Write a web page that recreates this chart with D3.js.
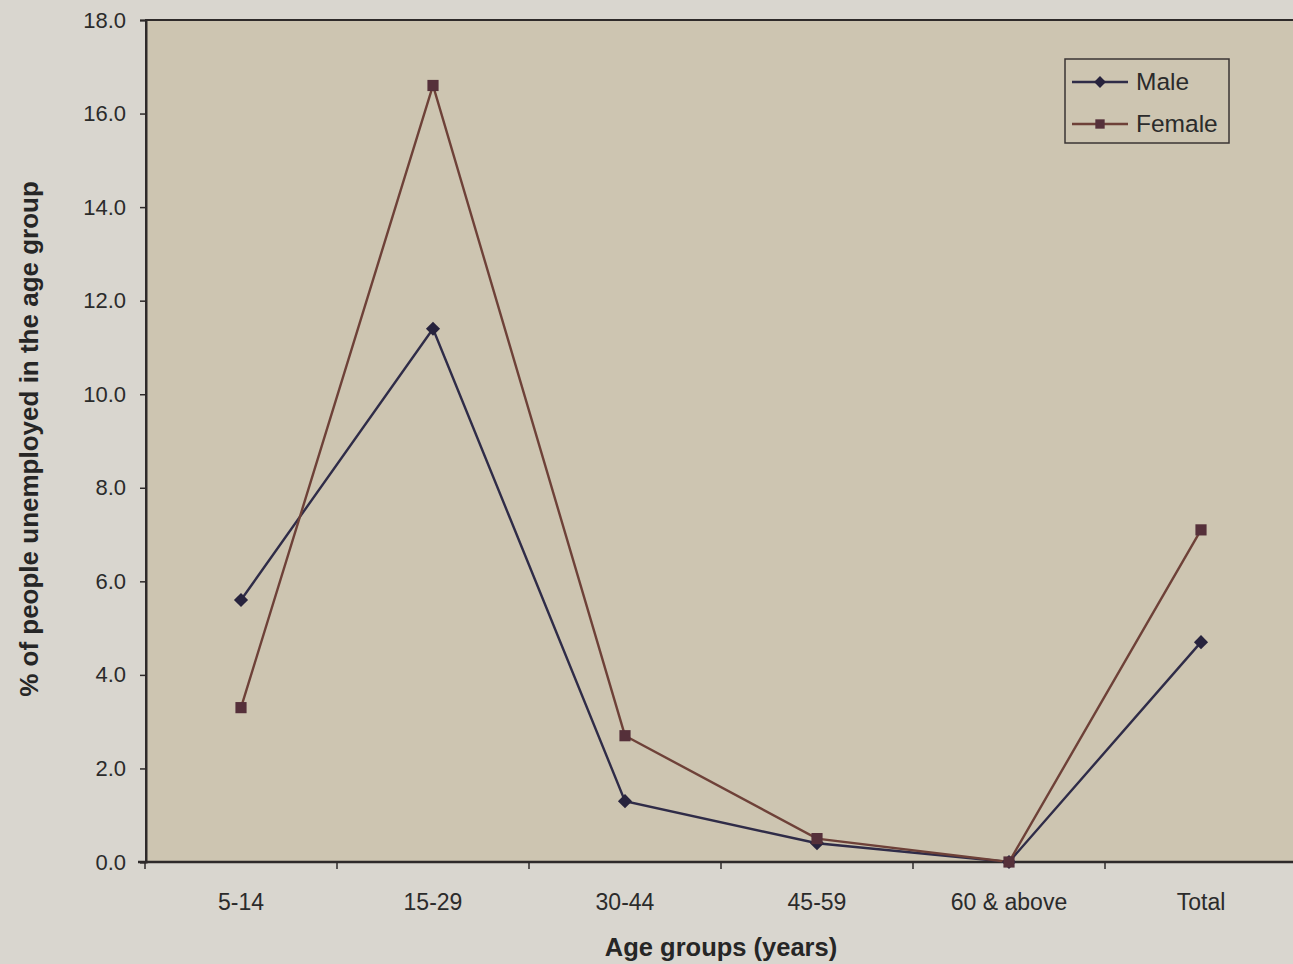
<!DOCTYPE html>
<html>
<head>
<meta charset="utf-8">
<script src="https://cdn.jsdelivr.net/npm/d3@7"></script>
<style>
  html, body { margin: 0; padding: 0; background: #d9d6cf; }
  svg { display: block; font-family: "Liberation Sans", Arial, sans-serif; }
</style>
</head>
<body>
<svg id="chart" width="1293" height="964"></svg>
<script>
// Unemployment rate by age group, male vs female
const categories = ["5-14", "15-29", "30-44", "45-59", "60 & above", "Total"];
const maleValues = [5.6, 11.4, 1.3, 0.4, 0.0, 4.7];
const femaleValues = [3.3, 16.6, 2.7, 0.5, 0.0, 7.1];
const yTicks = [0, 2, 4, 6, 8, 10, 12, 14, 16, 18];

const series = [
  { name: "Male", values: maleValues, line: "#2f2c48", marker: "#27233d", rotate: 45, size: 100 },
  { name: "Female", values: femaleValues, line: "#6e4138", marker: "#55303a", rotate: 0, size: 125 }
];

const svg = d3.select("#chart");
const W = 1293, H = 964;
const plotL = 146, plotT = 20, plotR = 1298, plotB = 862;

const x = d3.scaleBand().domain(categories).range([plotL - 1, plotR - 1]);
const y = d3.scaleLinear().domain([0, 18]).range([plotB, plotT]);

// page background
svg.append("rect").attr("width", W).attr("height", H).attr("fill", "#d9d6cf");

// plot area
svg.append("rect")
  .attr("x", plotL).attr("y", plotT)
  .attr("width", plotR - plotL).attr("height", plotB - plotT)
  .attr("fill", "#cdc5b1")
  .attr("stroke", "#2e2a2a").attr("stroke-width", 2);

// y axis
const yAxis = svg.append("g")
  .attr("transform", `translate(${plotL},0)`)
  .call(d3.axisLeft(y).tickValues(yTicks).tickFormat(d3.format(".1f")).tickSize(6).tickPadding(14));
yAxis.select(".domain").attr("stroke", "#2e2a2a").attr("stroke-width", 2);
yAxis.selectAll(".tick line").attr("stroke", "#2e2a2a").attr("stroke-width", 1.5);
yAxis.selectAll(".tick text").attr("fill", "#2b2b2b").style("font-size", "22px");

// x axis with ticks at category boundaries
const xAxis = svg.append("g").attr("transform", `translate(0,${plotB})`);
xAxis.append("line")
  .attr("x1", plotL - 8).attr("x2", W)
  .attr("stroke", "#2e2a2a").attr("stroke-width", 2.5);
xAxis.selectAll("line.tick")
  .data(categories.concat(["__end"]))
  .join("line")
  .attr("class", "tick")
  .attr("x1", (d, i) => i < categories.length ? x(d) : x.range()[1])
  .attr("x2", (d, i) => i < categories.length ? x(d) : x.range()[1])
  .attr("y1", 0).attr("y2", 7)
  .attr("stroke", "#2e2a2a").attr("stroke-width", 1.5);
xAxis.selectAll("text.lbl")
  .data(categories)
  .join("text")
  .attr("class", "lbl")
  .attr("x", d => x(d) + x.bandwidth() / 2)
  .attr("y", 48)
  .attr("text-anchor", "middle")
  .attr("fill", "#2b2b2b")
  .style("font-size", "23px")
  .text(d => d);

// axis titles
svg.append("text")
  .attr("x", 721).attr("y", 956)
  .attr("text-anchor", "middle")
  .attr("fill", "#262626")
  .style("font-size", "25.5px").style("font-weight", "bold")
  .text("Age groups (years)");
svg.append("text")
  .attr("transform", "translate(38,439) rotate(-90)")
  .attr("text-anchor", "middle")
  .attr("fill", "#262626")
  .style("font-size", "26px").style("font-weight", "bold")
  .text("% of people unemployed in the age group");

// lines and markers
const cx = d => x(d) + x.bandwidth() / 2;
const line = d3.line().x((v, i) => cx(categories[i])).y(v => y(v));
const marker = d3.symbol().type(d3.symbolSquare);

series.forEach(s => {
  svg.append("path")
    .attr("d", line(s.values))
    .attr("fill", "none")
    .attr("stroke", s.line)
    .attr("stroke-width", 2.4);
});
series.forEach(s => {
  svg.selectAll(null)
    .data(s.values)
    .join("path")
    .attr("transform", (v, i) => `translate(${cx(categories[i])},${y(v)}) rotate(${s.rotate})`)
    .attr("d", marker.size(s.size)())
    .attr("fill", s.marker);
});

// legend
const lg = svg.append("g").attr("transform", "translate(1065,59)");
lg.append("rect")
  .attr("width", 164).attr("height", 84)
  .attr("fill", "#cdc5b1")
  .attr("stroke", "#3a3434").attr("stroke-width", 1.5);
series.forEach((s, i) => {
  const ly = 23 + i * 42;
  lg.append("line")
    .attr("x1", 7).attr("x2", 63).attr("y1", ly).attr("y2", ly)
    .attr("stroke", s.line).attr("stroke-width", 2.4);
  lg.append("path")
    .attr("transform", `translate(35,${ly}) rotate(${s.rotate})`)
    .attr("d", marker.size(s.size * 0.7)())
    .attr("fill", s.marker);
  lg.append("text")
    .attr("x", 71).attr("y", ly + 8)
    .attr("fill", "#2b2b2b")
    .style("font-size", "24.5px")
    .text(s.name);
});
</script>
</body>
</html>
